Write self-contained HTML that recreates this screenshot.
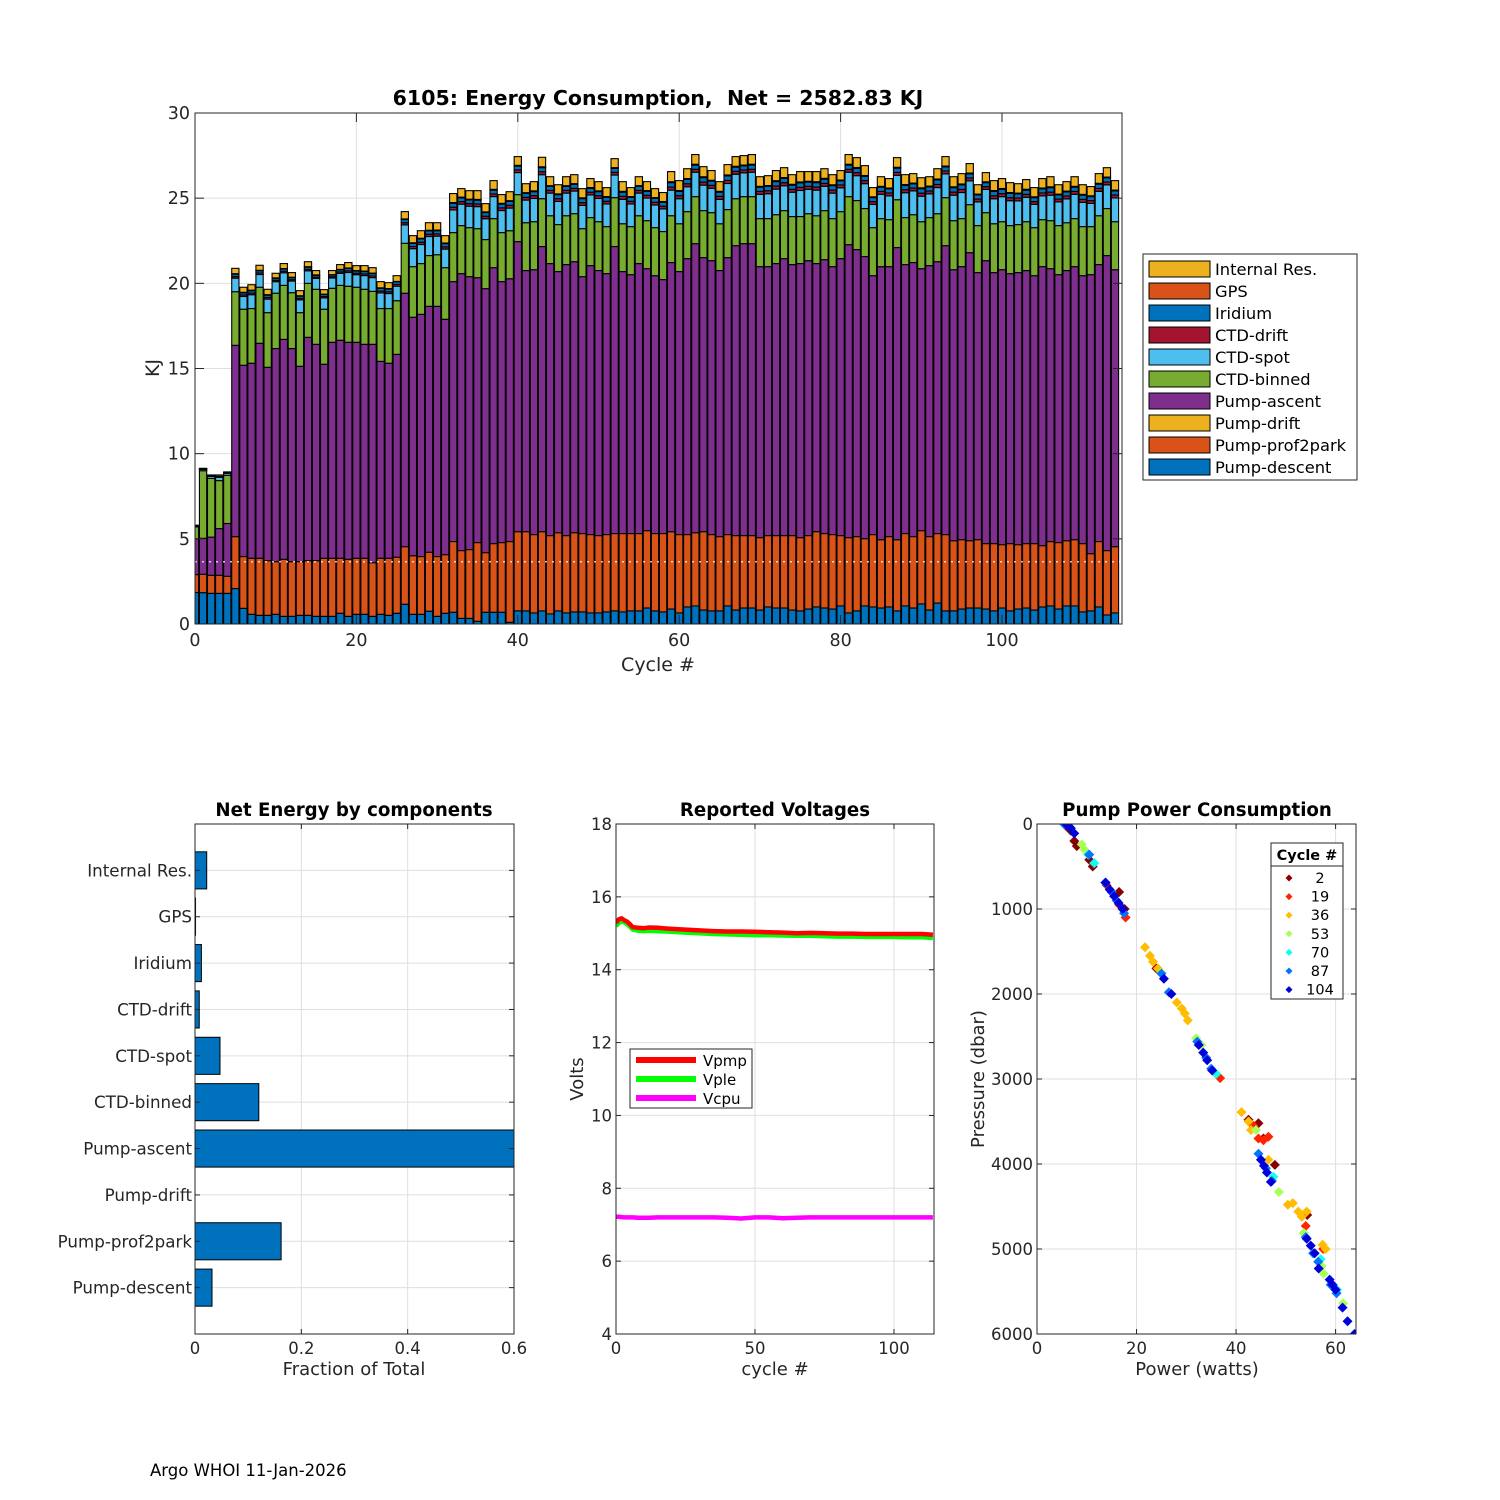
<!DOCTYPE html>
<html><head><meta charset="utf-8"><style>
html,body{margin:0;padding:0;background:#fff}
svg{display:block;font-family:"DejaVu Sans","Liberation Sans",sans-serif}
</style></head><body>
<svg id="fig" width="1500" height="1500" viewBox="0 0 1500 1500" xmlns="http://www.w3.org/2000/svg">
<rect width="1500" height="1500" fill="#fff"/>
<defs>
<clipPath id="c1"><rect x="195" y="113" width="927" height="511"/></clipPath>
<clipPath id="c2"><rect x="195" y="824" width="319" height="510"/></clipPath>
<clipPath id="c3"><rect x="616" y="824" width="318" height="510"/></clipPath>
<clipPath id="c4"><rect x="1037" y="824" width="319" height="510"/></clipPath>
</defs>
<g id="top"></g>
<g id="bl"></g>
<g id="mid"></g>
<g id="rt"></g>
<text x="150" y="1476" font-size="16.5" fill="#000">Argo WHOI 11-Jan-2026</text>
</svg>
<script>
// ===== Top chart data (cumulative stack levels, kJ) =====
const descentTop = [1.85,1.84,1.8,1.8,1.8,2.08,0.92,0.57,0.51,0.51,
0.57,0.45,0.45,0.51,0.51,0.45,0.45,0.45,0.63,0.45,
0.57,0.57,0.45,0.57,0.51,0.63,1.16,0.57,0.57,0.75,
0.45,0.63,0.69,0.33,0.33,0.16,0.69,0.69,0.69,0.1,
0.77,0.77,0.65,0.77,0.59,0.77,0.65,0.71,0.71,0.65,
0.65,0.71,0.77,0.71,0.77,0.77,0.94,0.77,0.71,0.88,
0.65,1.0,1.06,0.82,0.77,0.77,1.06,0.82,0.94,0.94,
0.82,1.0,0.94,0.94,0.82,0.77,0.88,1.0,0.94,0.88,
1.06,0.65,0.77,1.06,1.0,0.94,1.0,0.77,1.06,0.94,
1.18,0.82,1.23,0.77,0.77,0.88,0.94,0.94,0.88,0.77,
0.94,0.77,0.88,0.94,0.82,1.0,1.06,0.88,1.06,1.06,
0.71,0.77,1.0,0.53,0.65];
const prof2parkTop = [2.9,2.92,2.86,2.86,2.8,5.13,3.96,3.86,3.86,3.72,
3.66,3.8,3.66,3.66,3.72,3.72,3.86,3.86,3.86,3.8,
3.86,3.86,3.6,3.86,3.86,3.92,4.54,4.01,3.96,4.21,
3.96,4.07,4.84,4.31,4.37,4.78,4.19,4.72,4.78,4.84,
5.42,5.42,5.25,5.42,5.19,5.36,5.19,5.36,5.31,5.25,
5.19,5.25,5.31,5.31,5.31,5.31,5.48,5.31,5.31,5.42,
5.25,5.25,5.36,5.42,5.25,5.13,5.25,5.19,5.19,5.19,
5.07,5.19,5.19,5.19,5.19,5.07,5.19,5.42,5.31,5.25,
5.19,5.07,5.13,5.01,5.25,4.95,5.13,4.95,5.31,5.13,
5.48,5.13,5.31,5.25,4.89,4.95,4.89,4.95,4.72,4.72,
4.66,4.72,4.66,4.72,4.72,4.6,4.84,4.78,4.89,4.95,
4.72,4.13,4.84,4.31,4.54];
const ascentTop = [5.0,5.03,5.1,5.6,5.9,16.36,15.19,15.31,16.48,15.07,
16.17,16.71,16.17,15.13,16.83,16.42,15.25,16.54,16.66,16.54,
16.54,16.42,16.42,15.42,15.31,15.83,19.42,18.01,18.18,18.65,
18.65,17.89,20.1,20.57,20.39,20.33,19.69,20.92,20.1,20.27,
22.45,20.75,20.8,22.16,21.16,20.69,21.1,21.27,20.39,21.04,
20.75,20.57,22.16,20.69,20.51,21.16,20.86,20.45,20.22,21.22,
20.69,21.45,22.33,21.51,21.33,20.75,21.51,22.21,22.33,22.33,
20.98,20.98,21.16,21.45,21.1,21.16,21.33,21.16,21.39,20.98,
21.45,22.27,21.98,21.57,20.45,20.98,20.98,22.1,21.1,21.22,
20.86,21.04,21.27,22.21,20.8,20.98,21.8,20.63,21.33,20.63,
20.8,20.57,20.63,20.75,20.45,20.98,20.86,20.51,20.75,20.98,
20.45,20.51,21.1,21.63,20.8];
const binnedTop = [5.7,9.0,8.55,8.42,8.73,19.51,18.48,18.52,19.77,18.28,
19.42,19.88,19.45,18.28,20.0,19.65,18.48,19.71,19.88,19.83,
19.77,19.65,19.53,18.52,18.52,18.98,22.35,20.98,21.16,21.63,
21.68,20.92,22.98,23.39,23.27,23.21,22.57,23.8,22.98,23.09,
25.21,23.56,23.62,24.97,23.97,23.45,23.97,24.09,23.21,23.86,
23.62,23.33,25.03,23.5,23.33,23.97,23.68,23.27,23.04,23.97,
23.5,24.21,25.09,24.27,24.15,23.5,24.33,24.97,25.09,25.09,
23.8,23.8,24.03,24.27,23.92,23.92,24.09,23.97,24.27,23.8,
24.21,25.09,24.86,24.39,23.27,23.8,23.74,24.91,23.86,24.03,
23.62,23.86,24.09,25.03,23.68,23.8,24.62,23.39,24.15,23.5,
23.62,23.39,23.45,23.62,23.27,23.74,23.68,23.39,23.56,23.8,
23.33,23.33,23.97,24.39,23.62];
const totalTop = [5.8,9.14,8.75,8.75,8.93,20.88,19.77,19.92,21.06,19.65,
20.59,21.16,20.63,19.57,21.27,20.75,19.63,20.75,21.1,21.22,
21.04,21.04,20.92,20.1,20.04,20.45,24.21,22.8,23.09,23.56,
23.56,22.8,25.27,25.56,25.44,25.44,24.68,26.03,25.21,25.38,
27.44,25.85,25.97,27.4,26.26,25.79,26.26,26.38,25.56,26.15,
25.97,25.62,27.32,25.97,25.62,26.26,25.97,25.56,25.33,26.56,
26.03,26.73,27.56,26.85,26.62,25.97,26.97,27.44,27.5,27.56,
26.26,26.32,26.62,26.79,26.38,26.56,26.56,26.56,26.73,26.38,
26.62,27.56,27.38,26.91,25.62,26.26,26.15,27.38,26.38,26.44,
26.2,26.26,26.73,27.44,26.26,26.44,27.03,25.79,26.5,26.03,
26.15,25.91,25.85,26.09,25.62,26.15,26.26,25.79,25.97,26.26,
25.79,25.68,26.44,26.79,26.03];
const seriesNames = ["Pump-descent","Pump-prof2park","Pump-drift","Pump-ascent","CTD-binned","CTD-spot","CTD-drift","Iridium","GPS","Internal Res."];
const seriesColors = ["#0072BD","#D95319","#EDB120","#7E2F8E","#77AC30","#4DBEEE","#A2142F","#0072BD","#D95319","#EDB120"];
const topShares = [0.58,0.07,0.10,0.02,0.23]; // split of energy above CTD-binned: spot, drift, iridium, gps, internal
const topYTicks = [0,5,10,15,20,25,30];
const topXTicks = [0,20,40,60,80,100];

// ===== Bottom-left data =====
const compNames = ["Internal Res.","GPS","Iridium","CTD-drift","CTD-spot","CTD-binned","Pump-ascent","Pump-drift","Pump-prof2park","Pump-descent"];
const compFractions = [0.022,0.001,0.012,0.008,0.047,0.12,0.6,0,0.162,0.032];
const fracTicks = [0,0.2,0.4,0.6];

// ===== Voltage data =====
const voltCycles = [0,1,2,3,4,5,6,8,10,12,15,18,20,25,30,35,40,45,50,55,60,65,70,75,80,85,90,95,100,105,110,114];
const vpmp = [15.29,15.38,15.41,15.36,15.32,15.25,15.17,15.15,15.14,15.16,15.15,15.13,15.12,15.10,15.08,15.06,15.05,15.05,15.04,15.03,15.02,15.00,15.01,15.00,14.99,14.99,14.98,14.98,14.98,14.98,14.98,14.96];
const vple = [15.2,15.28,15.33,15.3,15.25,15.18,15.1,15.07,15.06,15.07,15.06,15.05,15.04,15.02,15.0,14.98,14.97,14.96,14.95,14.95,14.94,14.93,14.93,14.92,14.91,14.91,14.90,14.90,14.90,14.89,14.89,14.87];
const vcpu = [7.22,7.22,7.21,7.2,7.2,7.2,7.2,7.19,7.19,7.19,7.2,7.2,7.2,7.2,7.2,7.2,7.19,7.17,7.2,7.2,7.18,7.19,7.2,7.2,7.2,7.2,7.2,7.2,7.2,7.2,7.2,7.2];
const voltTicks = [4,6,8,10,12,14,16,18];
const cycleTicks = [0,50,100];

// ===== Pump power scatter data: [watts, dbar, cycle] =====
const pumpPoints = [
[5.8,20,2],[6.8,80,2],[7.5,200,2],[8.0,260,2],[10.5,420,2],[11.2,500,2],[16.5,800,2],[17.6,1000,2],[24.0,1700,2],[42.5,3480,2],[44.5,3520,2],[45.5,3700,2],[47.8,4010,2],[54.3,4600,2],
[14,720,19],[15,800,19],[16.5,950,19],[17.8,1100,19],[36.8,2990,19],[43.5,3550,19],[44.5,3700,19],[45.5,3720,19],[46.5,3680,19],[54,4730,19],[57.5,5000,19],
[21.7,1450,36],[22.7,1550,36],[23.3,1620,36],[24.3,1700,36],[28.1,2100,36],[29.1,2170,36],[29.7,2230,36],[30.3,2310,36],[41.1,3390,36],[42.5,3500,36],[43,3600,36],[46.5,3950,36],[50.4,4480,36],[51.4,4460,36],[52.5,4560,36],[53.2,4620,36],[54.2,4560,36],[57.4,4950,36],[58,5000,36],
[9,240,53],[9.5,300,53],[25,1750,53],[32,2520,53],[33,2600,53],[44,3600,53],[48.6,4330,53],[53.6,4810,53],[57.2,5200,53],[57.6,5290,53],[61.5,5640,53],
[10.3,360,70],[11.5,460,70],[36,2940,70],[47.5,4150,70],[57,5120,70],[60.3,5480,70],[63.9,6010,70],
[5.5,5,87],[6.5,30,87],[10.5,360,87],[13.7,690,87],[15,800,87],[16,900,87],[17.5,1050,87],[25,1760,87],[26.5,1980,87],[32.2,2560,87],[34,2750,87],[35,2880,87],[44.5,3880,87],[46,4050,87],[47.2,4200,87],[54,4860,87],[55.5,5050,87],[56.5,5150,87],[59,5420,87],[60.2,5520,87],
[6,10,104],[6.8,50,104],[7.5,110,104],[13.8,690,104],[14.6,770,104],[15.5,850,104],[16.4,930,104],[17.2,1000,104],[25.5,1820,104],[27,2000,104],[32.5,2600,104],[33.4,2690,104],[34.2,2780,104],[35.2,2900,104],[45,3950,104],[45.6,4020,104],[46.2,4100,104],[47,4210,104],[54.2,4880,104],[55,4960,104],[55.8,5050,104],[56.6,5230,104],[58.8,5360,104],[59.4,5420,104],[60,5480,104],[61.4,5690,104],[62.4,5850,104],[63.8,6000,104]
];
const legendCycles = [2,19,36,53,70,87,104];
const powerTicks = [0,20,40,60];
const pressureTicks = [0,1000,2000,3000,4000,5000,6000];

const NS = "http://www.w3.org/2000/svg";
function mk(parent, tag, attrs, text){
  const e = document.createElementNS(NS, tag);
  for (const k in attrs) e.setAttribute(k, attrs[k]);
  if (text !== undefined) e.textContent = text;
  parent.appendChild(e);
  return e;
}
const TXT = "#262626", GRID = "#dfdfdf", AX = "#262626";

// ---------- TOP CHART ----------
(function(){
  const g = document.getElementById("top");
  const L=195,R=1122,T=113,B=624, xmax=114.87, ymax=30;
  const xs = c => L + c*(R-L)/xmax;
  const ys = v => B - v*(B-T)/ymax;
  topXTicks.forEach(t=>{ if(t>0){ const l=mk(g,"line",{x1:xs(t),x2:xs(t),y1:T,y2:B,stroke:GRID,"stroke-width":1});
    
     }});
  topYTicks.forEach(t=>{ if(t>0&&t<30){ const l=mk(g,"line",{x1:L,x2:R,y1:ys(t),y2:ys(t),stroke:GRID,"stroke-width":1});
    
     }});
  const bars = mk(g,"g",{"clip-path":"url(#c1)"});
  
  
  const w = 0.9*(R-L)/xmax;
  for(let i=0;i<totalTop.length;i++){
    const rest = totalTop[i]-binnedTop[i];
    const levels=[0,descentTop[i],prof2parkTop[i],prof2parkTop[i],ascentTop[i],binnedTop[i]];
    let acc = binnedTop[i];
    topShares.forEach(s=>{acc+=rest*s; levels.push(acc);});
    for(let k=0;k<10;k++){
      const y0=ys(levels[k]), y1=ys(levels[k+1]);
      if(y0-y1<0.01 && k===2) continue;
      const r=mk(bars,"rect",{x:xs(i)-w/2,y:y1,width:w,height:Math.max(0,y0-y1),fill:seriesColors[k],stroke:"#000","stroke-width":1.1});
      
      
    }
  }
  const dl=mk(g,"line",{x1:L,x2:R,y1:ys(3.65),y2:ys(3.65),stroke:"#fff","stroke-width":1.2,"stroke-dasharray":"2 5"});
  
  
  const box=mk(g,"rect",{x:L,y:T,width:R-L,height:B-T,fill:"none",stroke:AX,"stroke-width":1});
  
  
  topXTicks.forEach(t=>{
    mk(g,"line",{x1:xs(t),x2:xs(t),y1:B,y2:B-9,stroke:AX});
    mk(g,"line",{x1:xs(t),x2:xs(t),y1:T,y2:T+9,stroke:AX});
    const tx=mk(g,"text",{x:xs(t),y:B+22,"font-size":17.5,"text-anchor":"middle",fill:TXT},String(t));
    
    
  });
  topYTicks.forEach(t=>{
    mk(g,"line",{x1:L,x2:L+9,y1:ys(t),y2:ys(t),stroke:AX});
    mk(g,"line",{x1:R,x2:R-9,y1:ys(t),y2:ys(t),stroke:AX});
    const tx=mk(g,"text",{x:L-5,y:ys(t)+6,"font-size":17.5,"text-anchor":"end",fill:TXT},String(t));
    
    
  });
  const tt=mk(g,"text",{x:658,y:105,"font-size":20.5,"font-weight":"bold","text-anchor":"middle",fill:"#000"},"6105: Energy Consumption,\u00a0 Net = 2582.83 KJ");
  
  
  const xl=mk(g,"text",{x:658,y:671,"font-size":19,"text-anchor":"middle",fill:TXT},"Cycle #");
  
  
  const yl=mk(g,"text",{x:0,y:0,"font-size":19,"text-anchor":"middle",fill:TXT,transform:"translate(159,368) rotate(-90)"},"KJ");
  
  
  const lg=mk(g,"g",{});
  
  
  mk(lg,"rect",{x:1143,y:254,width:214,height:226,fill:"#fff",stroke:AX,"stroke-width":1});
  for(let j=0;j<10;j++){
    const k=9-j, cy=269+22*j;
    const e=mk(lg,"g",{});
    
    
    mk(e,"rect",{x:1149,y:cy-8,width:61,height:16,fill:seriesColors[k],stroke:"#000","stroke-width":1});
    mk(e,"text",{x:1215,y:cy+6,"font-size":16.3,fill:"#000"},seriesNames[k]);
  }
})();

// ---------- BOTTOM LEFT ----------
(function(){
  const g=document.getElementById("bl");
  const L=195,R=514,T=824,B=1334, xmax=0.6, n=compNames.length;
  const xs=v=>L+v*(R-L)/xmax;
  const yc=i=>T+(i+1)*(B-T)/(n+1);
  fracTicks.forEach(t=>{ if(t>0&&t<0.6){ const l=mk(g,"line",{x1:xs(t),x2:xs(t),y1:T,y2:B,stroke:GRID});
    
     }});
  compNames.forEach((c,i)=>{ const l=mk(g,"line",{x1:L,x2:R,y1:yc(i),y2:yc(i),stroke:GRID});
    
     });
  const cg=mk(g,"g",{"clip-path":"url(#c2)"});
  const bh=0.8*(B-T)/(n+1);
  compFractions.forEach((v,i)=>{
    if(v<=0) return;
    const r=mk(cg,"rect",{x:L,y:yc(i)-bh/2,width:xs(v)-L,height:bh,fill:"#0072BD",stroke:"#000","stroke-width":1});
    
    
  });
  mk(g,"rect",{x:L,y:T,width:R-L,height:B-T,fill:"none",stroke:AX});
  fracTicks.forEach(t=>{
    mk(g,"line",{x1:xs(t),x2:xs(t),y1:B,y2:B-5,stroke:AX});
    mk(g,"line",{x1:xs(t),x2:xs(t),y1:T,y2:T+5,stroke:AX});
    const tx=mk(g,"text",{x:xs(t),y:B+20,"font-size":16.5,"text-anchor":"middle",fill:TXT},String(t));
    
    
  });
  compNames.forEach((c,i)=>{
    mk(g,"line",{x1:L,x2:L+5,y1:yc(i),y2:yc(i),stroke:AX});
    mk(g,"line",{x1:R,x2:R-5,y1:yc(i),y2:yc(i),stroke:AX});
    const tx=mk(g,"text",{x:L-3,y:yc(i)+6,"font-size":16.7,"text-anchor":"end",fill:TXT},c);
    
    
  });
  const tt=mk(g,"text",{x:354,y:816,"font-size":18.2,"font-weight":"bold","text-anchor":"middle",fill:"#000"},"Net Energy by components");
  
  
  const xl=mk(g,"text",{x:354,y:1375,"font-size":18,"text-anchor":"middle",fill:TXT},"Fraction of Total");
  
  
})();

// ---------- MIDDLE ----------
(function(){
  const g=document.getElementById("mid");
  const L=616,R=934,T=824,B=1334, xmax=114.4, ymin=4, ymax=18;
  const xs=c=>L+c*(R-L)/xmax;
  const ys=v=>B-(v-ymin)*(B-T)/(ymax-ymin);
  cycleTicks.forEach(t=>{ if(t>0){ const l=mk(g,"line",{x1:xs(t),x2:xs(t),y1:T,y2:B,stroke:GRID});
    
     }});
  voltTicks.forEach(t=>{ if(t>ymin&&t<ymax){ const l=mk(g,"line",{x1:L,x2:R,y1:ys(t),y2:ys(t),stroke:GRID});
    
     }});
  const cg=mk(g,"g",{"clip-path":"url(#c3)"});
  [[vcpu,"#ff00ff","vcpu-line"],[vple,"#00ff00","vple-line"],[vpmp,"#ff0000","vpmp-line"]].forEach(([arr,col,nm])=>{
    const pts=arr.map((v,i)=>xs(voltCycles[i]).toFixed(1)+","+ys(v).toFixed(1)).join(" ");
    const p=mk(cg,"polyline",{points:pts,fill:"none",stroke:col,"stroke-width":4.5,"stroke-linejoin":"round"});
    
    
  });
  mk(g,"rect",{x:L,y:T,width:R-L,height:B-T,fill:"none",stroke:AX});
  cycleTicks.forEach(t=>{
    mk(g,"line",{x1:xs(t),x2:xs(t),y1:B,y2:B-5,stroke:AX});
    mk(g,"line",{x1:xs(t),x2:xs(t),y1:T,y2:T+5,stroke:AX});
    const tx=mk(g,"text",{x:xs(t),y:B+20,"font-size":16.5,"text-anchor":"middle",fill:TXT},String(t));
    
    
  });
  voltTicks.forEach(t=>{
    mk(g,"line",{x1:L,x2:L+5,y1:ys(t),y2:ys(t),stroke:AX});
    mk(g,"line",{x1:R,x2:R-5,y1:ys(t),y2:ys(t),stroke:AX});
    const tx=mk(g,"text",{x:L-4,y:ys(t)+6,"font-size":16.5,"text-anchor":"end",fill:TXT},String(t));
    
    
  });
  const tt=mk(g,"text",{x:775,y:816,"font-size":18.2,"font-weight":"bold","text-anchor":"middle",fill:"#000"},"Reported Voltages");
  
  
  const xl=mk(g,"text",{x:775,y:1375,"font-size":18,"text-anchor":"middle",fill:TXT},"cycle #");
  
  
  const yl=mk(g,"text",{x:0,y:0,"font-size":18,"text-anchor":"middle",fill:TXT,transform:"translate(583,1079) rotate(-90)"},"Volts");
  
  
  const lg=mk(g,"g",{});
  
  
  mk(lg,"rect",{x:630,y:1049,width:122,height:59,fill:"#fff",stroke:AX});
  [["Vpmp","#ff0000"],["Vple","#00ff00"],["Vcpu","#ff00ff"]].forEach(([n,c],j)=>{
    const e=mk(lg,"g",{});
    
    
    const y=1060+19*j;
    mk(e,"line",{x1:636,x2:696,y1:y,y2:y,stroke:c,"stroke-width":6});
    mk(e,"text",{x:703,y:y+6,"font-size":15,fill:"#000"},n);
  });
})();

// ---------- RIGHT ----------
(function(){
  const g=document.getElementById("rt");
  const L=1037,R=1356,T=824,B=1334, xmax=64.1, pmax=6000;
  const xs=v=>L+v*(R-L)/xmax;
  const ys=p=>T+p*(B-T)/pmax;
  const jet=t=>{const c=x=>Math.round(255*Math.max(0,Math.min(1,x)));
    return "rgb("+c(1.5-Math.abs(4*t-3))+","+c(1.5-Math.abs(4*t-2))+","+c(1.5-Math.abs(4*t-1))+")";};
  const col=cy=>jet(1-(cy-1)/113);
  powerTicks.forEach(t=>{ if(t>0){ const l=mk(g,"line",{x1:xs(t),x2:xs(t),y1:T,y2:B,stroke:GRID});
    
     }});
  pressureTicks.forEach(t=>{ if(t>0&&t<6000){ const l=mk(g,"line",{x1:L,x2:R,y1:ys(t),y2:ys(t),stroke:GRID});
    
     }});
  const cg=mk(g,"g",{"clip-path":"url(#c4)"});
  const sorted=pumpPoints.slice().sort((a,b)=>a[2]-b[2]);
  sorted.forEach(p=>{
    const x=xs(p[0]), y=ys(p[1]);
    const d=mk(cg,"path",{d:`M${x-5},${y}L${x},${y-5}L${x+5},${y}L${x},${y+5}Z`,fill:col(p[2])});
    
    
  });
  mk(g,"rect",{x:L,y:T,width:R-L,height:B-T,fill:"none",stroke:AX});
  powerTicks.forEach(t=>{
    mk(g,"line",{x1:xs(t),x2:xs(t),y1:B,y2:B-5,stroke:AX});
    mk(g,"line",{x1:xs(t),x2:xs(t),y1:T,y2:T+5,stroke:AX});
    const tx=mk(g,"text",{x:xs(t),y:B+20,"font-size":16.5,"text-anchor":"middle",fill:TXT},String(t));
    
    
  });
  pressureTicks.forEach(t=>{
    mk(g,"line",{x1:L,x2:L+5,y1:ys(t),y2:ys(t),stroke:AX});
    mk(g,"line",{x1:R,x2:R-5,y1:ys(t),y2:ys(t),stroke:AX});
    const tx=mk(g,"text",{x:L-4,y:ys(t)+6,"font-size":16.5,"text-anchor":"end",fill:TXT},String(t));
    
    
  });
  const tt=mk(g,"text",{x:1197,y:816,"font-size":18.2,"font-weight":"bold","text-anchor":"middle",fill:"#000"},"Pump Power Consumption");
  
  
  const xl=mk(g,"text",{x:1197,y:1375,"font-size":18,"text-anchor":"middle",fill:TXT},"Power (watts)");
  
  
  const yl=mk(g,"text",{x:0,y:0,"font-size":18,"text-anchor":"middle",fill:TXT,transform:"translate(984,1079) rotate(-90)"},"Pressure (dbar)");
  
  
  const lg=mk(g,"g",{});
  
  
  mk(lg,"rect",{x:1271,y:843,width:72,height:156,fill:"#fff",stroke:AX});
  mk(lg,"line",{x1:1271,x2:1343,y1:866,y2:866,stroke:AX});
  mk(lg,"text",{x:1307,y:860,"font-size":14.5,"font-weight":"bold","text-anchor":"middle",fill:"#000"},"Cycle #");
  legendCycles.forEach((c,j)=>{
    const e=mk(lg,"g",{});
    
    
    const y=878+18.6*j, x=1289;
    mk(e,"path",{d:`M${x-3.5},${y}L${x},${y-3.5}L${x+3.5},${y}L${x},${y+3.5}Z`,fill:col(c)});
    mk(e,"text",{x:1320,y:y+5,"font-size":14.5,"text-anchor":"middle",fill:"#000"},String(c));
  });
})();
</script>
</body></html>
